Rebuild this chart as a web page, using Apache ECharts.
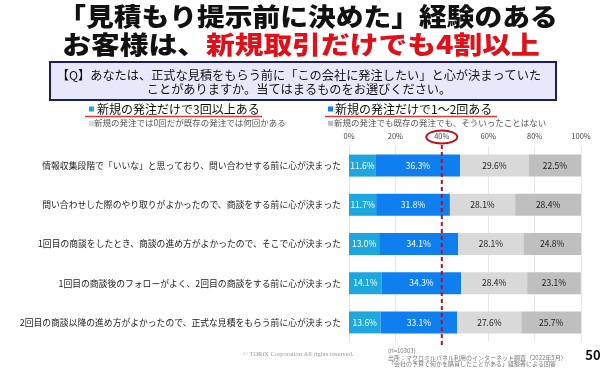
<!DOCTYPE html>
<html><head><meta charset="utf-8">
<script src="https://cdn.jsdelivr.net/npm/echarts@6/dist/echarts.min.js"></script>
<style>html,body{margin:0;padding:0;background:#fff}#c{width:605px;height:371px}</style>
</head><body><div id="c"></div>
<script>
const categories = [
  '情報収集段階で「いいな」と思っており、問い合わせする前に心が決まった',
  '問い合わせした際のやり取りがよかったので、商談をする前に心が決まった',
  '1回目の商談をしたとき、商談の進め方がよかったので、そこで心が決まった',
  '1回目の商談後のフォローがよく、2回目の商談をする前に心が決まった',
  '2回目の商談以降の進め方がよかったので、正式な見積をもらう前に心が決まった'
];
const seriesNames = [
  '新規の発注だけで3回以上ある',
  '新規の発注だけで1～2回ある',
  '新規の発注では0回だが既存の発注では何回かある',
  '新規の発注でも既存の発注でも、そういったことはない'
];
const s1 = [11.6, 11.7, 13.0, 14.1, 13.6];
const s2 = [36.3, 31.8, 34.1, 34.3, 33.1];
const s3 = [29.6, 28.1, 28.1, 28.4, 27.6];
const s4 = [22.5, 28.4, 24.8, 23.1, 25.7];
const xTicks = [0, 20, 40, 60, 80, 100];
const threshold = 40;

const FONT = '"Noto Sans CJK JP", "Noto Sans", sans-serif';
const colors = ['#1ea6e0', '#0f7ff0', '#d9d9d9', '#bfbfbf'];
const labelColors = ['#ffffff', '#ffffff', '#222222', '#222222'];
const data = [s1, s2, s3, s4];

const chart = echarts.init(document.getElementById('c'), null, {renderer: 'canvas'});

const series = data.map((d, i) => ({
  name: seriesNames[i],
  type: 'bar',
  stack: 'total',
  barWidth: 22,
  data: d,
  itemStyle: {color: colors[i]},
  label: {
    show: true, position: 'inside',
    formatter: p => p.value.toFixed(1) + '%',
    color: labelColors[i], fontSize: 8.5, fontFamily: FONT
  },
  emphasis: {disabled: true}
}));

const legendDefs = [
  {left: 89, top: 103, size: 12, color: '#111', w: 5, pad: -2},
  {left: 328, top: 103, size: 12, color: '#111', w: 5, pad: -3},
  {left: 89, top: 119, size: 8.5, color: '#555', w: 5, pad: -5},
  {left: 328, top: 119, size: 8.5, color: '#555', w: 5, pad: -4}
];
const legends = legendDefs.map((l, i) => ({
  data: [seriesNames[i]],
  left: l.left, top: l.top, padding: 0,
  icon: 'rect', itemWidth: l.w, itemHeight: l.w,
  selectedMode: false,
  textStyle: {fontSize: l.size, color: l.color, fontFamily: FONT, padding: [0,0,0,l.pad]}
}));

chart.setOption({
  animation: false,
  backgroundColor: '#ffffff',
  color: colors,
  legend: legends,
  grid: {left: 349, right: 24, top: 146, bottom: 29, containLabel: false},
  xAxis: {
    type: 'value', position: 'top', min: 0, max: 100, interval: 20,
    axisLabel: {formatter: v => v + '%', fontSize: 7.5, color: '#444', fontFamily: FONT, margin: 6},
    axisLine: {show: false}, axisTick: {show: false},
    splitLine: {show: true, lineStyle: {color: '#e6e6e6', width: 1}}
  },
  yAxis: {
    type: 'category', data: categories, inverse: true,
    axisLabel: {fontSize: 8.8, color: '#222', fontFamily: FONT, margin: 8},
    axisLine: {show: false}, axisTick: {show: false}
  },
  series: series,
  graphic: [
    {type: 'text', x: 308, y: 16.5, scaleX: 1.11, style: {
      text: '「見積もり提示前に決めた」経験のある', font: '900 25px ' + FONT, fill: '#111',
      align: 'center', verticalAlign: 'middle'}},
    {type: 'text', x: 301, y: 44, scaleX: 1.15, style: {
      text: '{b|お客様は、}{r|新規取引だけでも4割以上}',
      align: 'center', verticalAlign: 'middle',
      rich: {
        b: {font: '900 25px ' + FONT, fill: '#111'},
        r: {font: '900 25px ' + FONT, fill: '#e0101a'}
      }}},
    {type: 'rect', shape: {x: 50, y: 62, width: 506, height: 38},
      style: {fill: '#e9e8fb', stroke: '#1b1c6a', lineWidth: 2}},
    {type: 'text', x: 299, y: 75.5, style: {
      text: '【Q】あなたは、正式な見積をもらう前に「この会社に発注したい」と心が決まっていた',
      font: '12.2px ' + FONT, fill: '#111', align: 'center', verticalAlign: 'middle'}},
    {type: 'text', x: 299, y: 89.5, style: {
      text: 'ことがありますか。当てはまるものをお選びください。',
      font: '12.2px ' + FONT, fill: '#111', align: 'center', verticalAlign: 'middle'}},
    {type: 'line', shape: {x1: 85, y1: 116.5, x2: 262, y2: 116.5}, style: {stroke: '#e23a3a', lineWidth: 1.3}},
    {type: 'line', shape: {x1: 325, y1: 116.5, x2: 497, y2: 116.5}, style: {stroke: '#e23a3a', lineWidth: 1.3}},
    {type: 'text', x: 243, y: 354, style: {
      text: '© TORiX Corporation All rights reserved.', font: '6.5px "Liberation Serif", serif', fill: '#999', verticalAlign: 'middle'}},
    {type: 'text', x: 388, y: 351, style: {
      text: '(n=10303)', font: '6px ' + FONT, fill: '#777', verticalAlign: 'middle'}},
    {type: 'text', x: 388, y: 357.5, style: {
      text: '出所：マクロミルパネル利用のインターネット調査（2022年5月）', font: '6px ' + FONT, fill: '#777', verticalAlign: 'middle'}},
    {type: 'text', x: 388, y: 364, style: {
      text: '「会社の予算で何かを購買したことがある」経験者による回答', font: '6px ' + FONT, fill: '#777', verticalAlign: 'middle'}},
    {type: 'text', x: 593, y: 355, style: {
      text: '50', font: 'bold 13px ' + FONT, fill: '#111', align: 'center', verticalAlign: 'middle'}}
  ]
});

const px = chart.convertToPixel({gridIndex: 0}, [threshold, 0])[0];
const opt = chart.getOption();
const g = opt.graphic[0].elements.slice();
g.push(
  {type: 'line', z: 100, shape: {x1: px, y1: 145, x2: px, y2: 347},
    style: {stroke: '#c0101e', lineWidth: 2, lineDash: [4, 3]}},
  {type: 'ellipse', z: 100, shape: {cx: px, cy: 137, rx: 15.5, ry: 6.5},
    style: {fill: 'none', stroke: '#c0101e', lineWidth: 2}}
);
chart.setOption({graphic: g}, {replaceMerge: ['graphic']});
</script>
</body></html>
